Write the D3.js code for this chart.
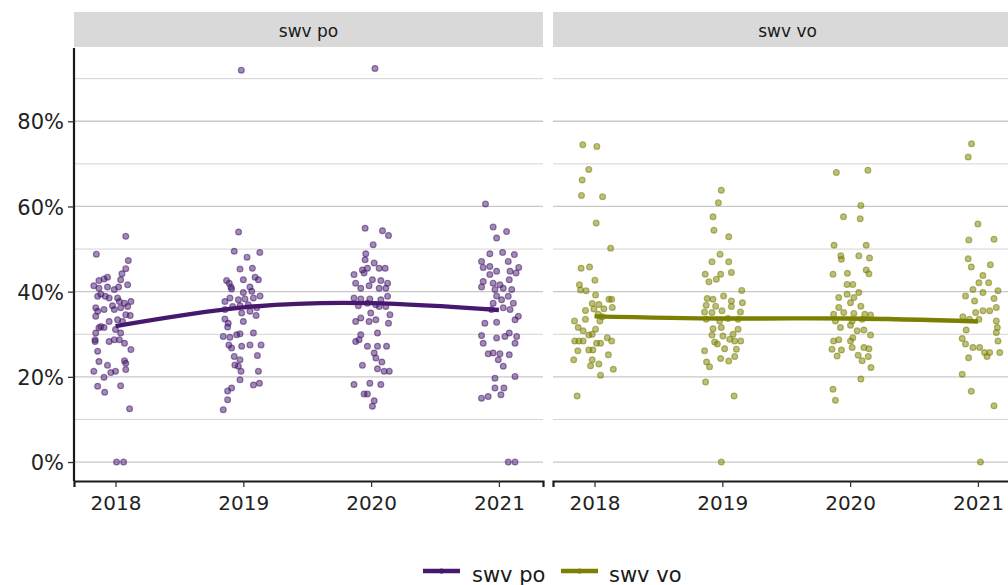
<!DOCTYPE html>
<html>
<head>
<meta charset="utf-8">
<script src="https://cdn.jsdelivr.net/npm/d3@7"></script>
<style>
  html, body { margin: 0; padding: 0; background: #ffffff; }
  svg { display: block; font-family: "DejaVu Sans", Verdana, sans-serif; }
</style>
</head>
<body>
<svg id="chart" width="1008" height="585"></svg>
<script>
// ---------------- DATA ----------------
const years = [2018, 2019, 2020, 2021];
const series = ["swv po", "swv vo"];
const yTicks = [0, 20, 40, 60, 80];
const yMinor = [10, 30, 50, 70, 90];
const yTickLabels = ["0%", "20%", "40%", "60%", "80%"];

// smooth trend values (percent) per year
const trendPo = [31.9, 36.3, 37.3, 35.7];
const trendVo = [34.2, 33.7, 33.7, 33.0];

// jittered observations: [jitter offset (years), value (%)]
const po2018 = [[0.08,53.0],[-0.15,48.8],[0.10,47.3],[0.08,45.4],[0.05,44.2],[0.04,42.8],[0.095,41.6],[-0.17,41.4],[-0.13,42.6],[-0.09,43.0],[-0.063,43.4],[-0.13,40.8],[-0.063,41.1],[-0.01,40.5],[0.024,41.1],[-0.115,39.4],[-0.14,38.9],[-0.08,38.9],[-0.05,38.5],[0.016,38.5],[0.03,37.7],[0.12,37.7],[0.07,37.3],[-0.024,36.7],[0.04,36.2],[0.095,36.5],[-0.155,36.2],[-0.14,35.4],[-0.09,35.8],[-0.01,35.8],[0.08,34.6],[0.115,34.4],[-0.155,34.2],[-0.05,33.0],[0.016,33.4],[0.055,33.0],[-0.115,31.8],[-0.13,31.5],[-0.09,31.6],[0.0,31.1],[-0.155,30.3],[0.04,30.3],[-0.05,28.3],[-0.01,28.7],[0.03,28.7],[-0.16,28.3],[-0.16,28.7],[0.07,27.9],[0.12,26.4],[-0.14,26.0],[0.07,23.8],[0.08,23.2],[-0.13,23.6],[-0.063,22.7],[-0.037,21.0],[0.0,21.3],[0.08,21.7],[-0.17,21.3],[-0.09,19.9],[-0.14,17.8],[-0.085,16.4],[0.04,17.9],[0.11,12.5],[0.008,0],[0.063,0]];
const po2019 = [[-0.016,92.0],[-0.037,54.0],[-0.071,49.5],[0.029,48.1],[0.129,49.2],[-0.026,45.3],[0.071,45.5],[-0.131,42.6],[-0.11,42.0],[0,42.8],[0.092,43.4],[0.118,42.8],[-0.097,41.1],[-0.092,40.6],[0.052,41.1],[0,39.8],[0.066,40.1],[-0.144,37.7],[-0.105,38.5],[-0.039,38.1],[0.013,38.3],[0.079,38.5],[0.131,39.0],[-0.084,36.5],[-0.026,36.7],[0.039,36.9],[0.105,36.2],[-0.144,35.8],[-0.013,35.0],[0.052,35.4],[0.1,34.4],[-0.144,33.6],[-0.118,32.6],[0,33.0],[-0.123,31.7],[-0.052,29.9],[-0.157,29.5],[-0.105,29.3],[-0.026,30.1],[0.079,30.3],[-0.113,27.5],[-0.092,26.8],[-0.013,27.2],[0.052,27.5],[0.139,27.5],[-0.071,24.8],[-0.026,24.0],[0.11,25.0],[-0.066,22.8],[-0.039,22.5],[-0.018,21.3],[0.118,21.3],[-0.026,19.3],[0.079,18.1],[0.126,18.5],[-0.092,17.4],[-0.123,16.7],[-0.123,14.6],[-0.157,12.3]];
const po2020 = [[0.03,92.4],[-0.047,54.9],[0.089,54.3],[0.136,53.2],[0.016,51.0],[-0.042,48.9],[-0.047,47.5],[0.024,46.7],[-0.068,45.1],[-0.029,45.5],[0.063,45.5],[0.11,45.5],[-0.134,44.0],[-0.055,44.4],[0.01,42.8],[0.076,42.6],[0.129,42.0],[-0.121,42.0],[-0.081,40.8],[-0.016,41.4],[0.063,40.8],[0.115,40.8],[-0.134,38.5],[-0.081,38.3],[-0.01,38.3],[0.076,38.1],[0.129,38.9],[-0.1,36.7],[-0.029,37.3],[0.037,36.9],[0.063,36.5],[0.115,36.5],[-0.081,33.8],[-0.003,35.0],[-0.121,33.0],[-0.016,33.0],[0.037,33.4],[0.147,34.6],[0.136,32.6],[-0.081,29.9],[0.05,30.3],[-0.121,28.3],[-0.094,28.7],[-0.029,27.2],[0.05,27.2],[0.121,27.2],[0.024,25.6],[0.037,24.4],[-0.068,22.7],[0.084,23.5],[0.05,21.9],[0.102,21.3],[0.142,21.3],[-0.134,18.2],[-0.01,18.5],[0.076,18.2],[-0.055,16.0],[-0.029,16.0],[0.024,14.4],[0.01,13.1]];
const po2021 = [[-0.105,60.6],[-0.045,55.2],[0.06,54.1],[-0.018,52.6],[-0.071,48.9],[0.029,49.2],[0.073,47.1],[0.121,48.7],[-0.136,47.1],[-0.123,45.7],[-0.071,45.9],[-0.018,44.8],[0.087,44.8],[0.155,45.7],[0.134,44.4],[-0.123,42.4],[-0.071,44.0],[-0.045,42.0],[0.008,41.6],[0.081,42.8],[-0.136,41.1],[-0.031,40.5],[0.034,40.8],[0.1,40.5],[-0.018,39.0],[0.073,38.9],[0.021,38.1],[-0.045,37.3],[0.113,37.3],[0.034,36.2],[0.087,35.8],[-0.058,35.8],[0.152,34.2],[0.126,33.4],[-0.11,32.6],[-0.018,32.8],[0.081,30.3],[-0.136,29.7],[-0.018,29.1],[0.047,29.5],[0.139,29.5],[-0.123,27.9],[0.126,27.9],[-0.084,25.4],[-0.045,25.6],[0.008,25.4],[-0.005,24.0],[0.081,25.2],[0.034,22.5],[0.126,20.1],[-0.031,19.7],[-0.031,17.4],[0.039,17.4],[0.016,15.8],[-0.136,15.0],[-0.084,15.4],[0.073,0],[0.126,0]];

const vo2018 = [[-0.092,74.5],[0.018,74.1],[-0.045,68.7],[-0.097,66.2],[-0.102,62.6],[0.063,62.3],[0.013,56.1],[0.126,50.2],[-0.105,45.5],[-0.039,45.8],[0.003,42.7],[-0.118,41.6],[-0.11,40.4],[-0.066,40.2],[0.008,39.2],[-0.018,37.2],[0.034,37.0],[0.113,38.2],[0.134,38.2],[-0.071,35.6],[-0.005,35.9],[0.073,36.0],[0.139,36.3],[0.029,34.7],[0.06,34.1],[-0.157,33.1],[-0.071,33.5],[0.042,33.1],[0.008,31.2],[-0.128,31.6],[-0.089,30.8],[-0.045,29.8],[-0.018,30.0],[-0.155,28.4],[-0.123,28.4],[-0.089,28.4],[0.016,27.9],[0.047,27.9],[0.10,29.2],[0.134,28.4],[-0.131,26.1],[-0.045,26.3],[-0.013,26.3],[-0.163,24.0],[-0.018,24.0],[0.108,25.2],[-0.031,22.6],[0.034,23.0],[0.147,21.8],[0.047,20.4],[-0.136,15.5]];
const vo2019 = [[-0.008,63.8],[-0.031,60.9],[-0.073,57.6],[-0.066,54.4],[0.05,52.9],[-0.018,48.8],[-0.081,47.0],[0.05,47.0],[-0.134,44.1],[-0.013,44.1],[0.071,44.5],[-0.105,42.3],[-0.047,42.9],[0.152,40.3],[-0.118,38.4],[-0.073,38.2],[0.01,39.0],[0.071,37.8],[0.157,37.4],[-0.126,36.8],[-0.052,36.6],[0.071,36.5],[-0.139,35.2],[-0.081,35.1],[-0.003,35.5],[0.142,35.2],[-0.126,33.5],[-0.021,33.1],[0.045,33.7],[0.123,33.5],[-0.073,31.3],[-0.008,31.6],[0.123,31.2],[-0.081,29.8],[0.005,29.6],[0.084,30.0],[-0.06,28.2],[0.058,28.8],[0.097,28.4],[0.144,28.4],[-0.139,26.1],[-0.039,27.7],[0.018,26.6],[0.11,26.5],[-0.123,23.5],[-0.1,22.4],[-0.013,24.3],[0.05,23.7],[0.097,24.8],[-0.131,18.8],[0.092,15.5],[-0.008,0]];
const vo2020 = [[-0.108,68.0],[0.139,68.5],[0.084,60.2],[-0.052,57.6],[0.079,57.1],[-0.126,50.9],[0.126,50.9],[-0.073,48.4],[-0.068,47.6],[0.068,48.4],[0.152,47.9],[-0.134,44.1],[-0.021,44.3],[0.126,45.1],[0.147,44.2],[-0.024,41.7],[0.021,41.7],[-0.089,38.6],[0.068,39.8],[-0.024,39.4],[0.029,38.6],[-0.089,36.3],[0.003,37.4],[0.084,36.6],[-0.129,34.7],[-0.05,35.1],[0.029,34.9],[0.115,34.7],[0.16,34.5],[-0.115,33.1],[0.016,33.1],[0.094,33.5],[-0.076,31.6],[0.003,32.1],[0.055,30.8],[0.108,31.0],[0.16,29.8],[0.021,29.2],[-0.129,28.4],[-0.089,28.7],[0.003,28.4],[-0.142,26.5],[-0.068,26.3],[0.016,26.9],[0.108,26.9],[0.147,26.6],[-0.102,24.9],[0.063,25.1],[0.142,24.8],[0.094,23.8],[0.163,22.2],[0.084,19.5],[-0.134,17.1],[-0.115,14.5]];
const vo2021 = [[-0.05,74.7],[-0.076,71.6],[0,55.9],[-0.071,52.1],[0.126,52.3],[-0.076,47.7],[-0.052,45.8],[0.097,46.3],[0.039,43.8],[0.008,42.1],[0.084,42.1],[-0.039,40.5],[0.039,39.8],[0.157,40.2],[-0.097,39.0],[-0.026,37.8],[0.126,38.4],[0.144,36.3],[-0.018,35.1],[0.039,35.5],[0.092,35.5],[-0.118,34.1],[-0.066,33.5],[0.008,33.5],[0.144,33.1],[0.152,31.6],[-0.092,31.0],[0.144,30.4],[-0.123,29.0],[-0.097,27.7],[0.157,28.4],[-0.039,26.9],[0.013,26.9],[0.052,25.7],[0.071,24.8],[0.092,25.7],[-0.073,24.5],[0.171,25.7],[-0.123,20.6],[-0.052,16.6],[0.126,13.2],[0.02,0]];

const poPoints = [po2018, po2019, po2020, po2021];
const voPoints = [vo2018, vo2019, vo2020, vo2021];

// ---------------- STYLE / LAYOUT ----------------
const colors = { "swv po": "#46196e", "swv vo": "#7b8000" };
const fontFamily = '"DejaVu Sans", Verdana, sans-serif';
const panelTop = 48, panelBottom = 481, panelWidth = 469;
const panelsX = [74, 553];
const stripTop = 12;

const svg = d3.select("#chart");

const y = d3.scaleLinear().domain([-4.45, 97.2]).range([panelBottom, panelTop]);

const panelData = [
  { name: "swv po", pts: poPoints, trend: trendPo },
  { name: "swv vo", pts: voPoints, trend: trendVo }
];

panelData.forEach((p, i) => {
  const x0 = panelsX[i];
  const x = d3.scaleLinear().domain([2017.675, 2021.345]).range([0, panelWidth]);
  const g = svg.append("g").attr("transform", `translate(${x0},0)`);

  // strip
  g.append("rect").attr("x", 0).attr("y", stripTop).attr("width", panelWidth)
    .attr("height", panelTop - stripTop - 1).attr("fill", "#d9d9d9");
  g.append("text").attr("x", panelWidth / 2).attr("y", 36.5)
    .attr("text-anchor", "middle").attr("font-size", 17).attr("fill", "#1a1a1a")
    .style("font-family", fontFamily).text(p.name);

  // gridlines
  const grid = g.append("g");
  grid.selectAll("line.minor").data(yMinor).join("line").attr("class", "minor")
    .attr("x1", 0).attr("x2", panelWidth)
    .attr("y1", d => y(d)).attr("y2", d => y(d))
    .attr("stroke", "#d4d4d4").attr("stroke-width", 1);
  grid.selectAll("line.major").data(yTicks).join("line").attr("class", "major")
    .attr("x1", 0).attr("x2", panelWidth)
    .attr("y1", d => y(d)).attr("y2", d => y(d))
    .attr("stroke", "#c8c8c8").attr("stroke-width", 1.3);

  // points
  const pg = g.append("g");
  p.pts.forEach((arr, yi) => {
    pg.selectAll(null).data(arr).join("circle")
      .attr("cx", d => x(years[yi] + d[0]))
      .attr("cy", d => y(d[1]))
      .attr("r", 2.9)
      .attr("fill", colors[p.name]).attr("fill-opacity", 0.5)
      .attr("stroke", colors[p.name]).attr("stroke-opacity", 0.55).attr("stroke-width", 1.2);
  });

  // smooth trend
  const line = d3.line().x((d, k) => x(years[k])).y(d => y(d)).curve(d3.curveNatural);
  g.append("path").attr("d", line(p.trend)).attr("fill", "none")
    .attr("stroke", colors[p.name]).attr("stroke-width", 4.4).attr("stroke-linecap", "butt");

  // x axis
  const xAxis = d3.axisBottom(x).tickValues(years).tickFormat(d3.format("d")).tickSize(6).tickPadding(4);
  const ax = g.append("g").attr("transform", `translate(0,${panelBottom})`).call(xAxis);
  ax.select(".domain").attr("stroke", "#1a1a1a").attr("stroke-width", 2.2);
  ax.selectAll(".tick line").attr("stroke", "#333").attr("stroke-width", 1.3);
  ax.selectAll(".tick text").attr("font-size", 20).attr("fill", "#222")
    .style("font-family", fontFamily).attr("dy", "0.95em");

  if (i === 0) {
    const yAxis = d3.axisLeft(y).tickValues(yTicks).tickFormat((d, k) => yTickLabels[k]).tickSize(6).tickPadding(4);
    const ay = g.append("g").call(yAxis);
    ay.select(".domain").attr("d", `M0,${panelTop}V${panelBottom}`).attr("stroke", "#1a1a1a").attr("stroke-width", 2.2);
    ay.selectAll(".tick line").attr("stroke", "#333").attr("stroke-width", 1.3);
    ay.selectAll(".tick text").attr("font-size", 21).attr("fill", "#222")
      .style("font-family", fontFamily).attr("dy", "0.36em");
  }
});

// legend
const legend = svg.append("g");
const legendItems = [
  { name: "swv po", kx: 423, tx: 472 },
  { name: "swv vo", kx: 561, tx: 609 }
];
legendItems.forEach(it => {
  legend.append("line").attr("x1", it.kx).attr("x2", it.kx + 37)
    .attr("y1", 571).attr("y2", 571)
    .attr("stroke", colors[it.name]).attr("stroke-width", 4.4);
  legend.append("circle").attr("cx", it.kx + 18.5).attr("cy", 571).attr("r", 2.6)
    .attr("fill", colors[it.name]);
  legend.append("text").attr("x", it.tx).attr("y", 581.5)
    .attr("font-size", 21).attr("fill", "#1a1a1a").style("font-family", fontFamily)
    .text(it.name);
});
</script>
</body>
</html>
